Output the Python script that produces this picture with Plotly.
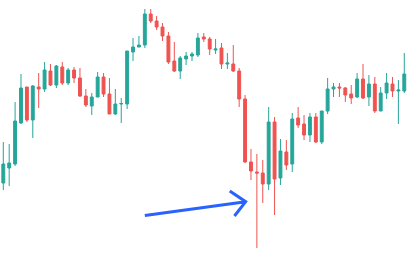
import plotly.graph_objects as go

idx = list(range(69))
opens = [74, 89, 93, 134, 170, 137, 170, 168, 186, 172, 190, 174, 187, 179, 161, 151, 160, 180, 163, 143,
         153, 153, 205, 210, 212, 243, 236, 230, 221, 196, 186, 198, 201, 202, 220, 218, 207, 209, 193, 193,
         186, 158, 95, 85, 84, 73, 135, 79, 105, 93, 139, 133, 122, 140, 115, 146, 168, 170, 169, 163,
         160, 178, 160, 173, 146, 164, 173, 166, 166]
highs = [115, 113, 155, 183, 170, 172, 184, 195, 193, 192, 195, 189, 190, 189, 168, 164, 185, 184, 179, 168,
         159, 206, 219, 221, 248, 248, 241, 234, 225, 215, 201, 205, 205, 224, 224, 220, 218, 214, 204, 212,
         189, 162, 108, 103, 97, 150, 140, 118, 117, 144, 150, 142, 144, 144, 146, 179, 174, 174, 170, 172,
         184, 193, 182, 180, 170, 184, 180, 177, 204]
lows = [67, 71, 91, 133, 135, 119, 149, 165, 171, 169, 172, 172, 174, 160, 150, 142, 160, 160, 143, 142,
        134, 148, 196, 210, 209, 234, 227, 216, 193, 185, 178, 192, 196, 200, 215, 202, 203, 188, 188, 185,
        150, 94, 77, 9, 54, 67, 42, 72, 87, 85, 129, 117, 115, 114, 113, 143, 160, 160, 155, 153,
        159, 158, 151, 144, 146, 158, 160, 133, 164]
closes = [93, 94, 136, 169, 137, 171, 168, 187, 172, 191, 174, 187, 179, 161, 152, 160, 180, 163, 143, 153,
          153.5, 206, 210, 212, 243, 236, 230, 221, 195, 186, 199, 201, 203, 219, 218, 208, 208, 193, 194, 186,
          158, 95, 86, 84, 73, 135, 78, 106, 92, 138, 132, 122, 140, 115, 146, 168, 170, 169, 162, 159,
          178, 159, 173, 146, 164, 174, 166, 167, 183]

# arrow annotation (bar index, price)
arrow_start = (24.0, 41.5)
arrow_tip = (41.1, 55.3)
arrow_arm_upper = (38.4, 66.0)
arrow_arm_lower = (39.2, 41.0)

UP = "#26a69a"
DOWN = "#ef5350"

fig = go.Figure()
fig.add_trace(go.Candlestick(
    x=idx, open=opens, high=highs, low=lows, close=closes,
    increasing=dict(line=dict(color=UP, width=1), fillcolor=UP),
    decreasing=dict(line=dict(color=DOWN, width=1), fillcolor=DOWN),
    showlegend=False, hoverinfo="skip",
))

path = (f"M {arrow_start[0]},{arrow_start[1]} L {arrow_tip[0]},{arrow_tip[1]} "
        f"M {arrow_arm_upper[0]},{arrow_arm_upper[1]} L {arrow_tip[0]},{arrow_tip[1]} "
        f"L {arrow_arm_lower[0]},{arrow_arm_lower[1]}")
fig.add_shape(type="path", path=path, xref="x", yref="y",
              line=dict(color="#2962ff", width=3))

fig.update_layout(
    width=407, height=257,
    margin=dict(l=0, r=0, t=0, b=0),
    paper_bgcolor="white", plot_bgcolor="white",
    xaxis=dict(visible=False, range=[-0.56, 68.46], rangeslider=dict(visible=False)),
    yaxis=dict(visible=False, range=[0, 257]),
    showlegend=False,
)
fig.write_html("out.html")
